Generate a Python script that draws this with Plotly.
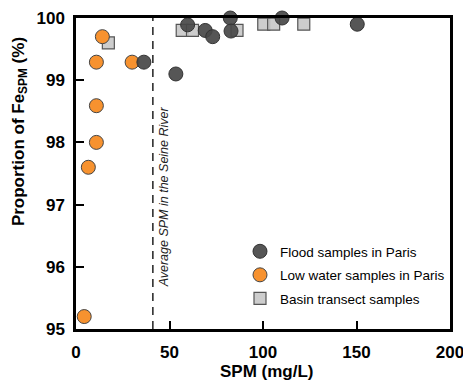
import plotly.graph_objects as go

# Data
flood_x = [36.3, 53.4, 59.7, 69.1, 73.1, 82.5, 82.9, 110.2, 150.4]
flood_y = [99.29, 99.10, 99.89, 99.80, 99.70, 100.0, 99.79, 100.0, 99.90]

low_x = [14.1, 10.9, 30.0, 10.9, 10.9, 6.6, 4.4]
low_y = [99.70, 99.29, 99.29, 98.59, 98.00, 97.60, 95.20]

basin_x = [17.3, 56.8, 62.3, 86.1, 100.4, 105.7, 121.8]
basin_y = [99.60, 99.80, 99.80, 99.80, 99.90, 99.90, 99.90]

avg_spm = 41.1
x_ticks = [0, 50, 100, 150, 200]
y_ticks = [95, 96, 97, 98, 99, 100]

x_title = "SPM (mg/L)"
y_title = "Proportion of Fe<sub>SPM</sub> (%)"
avg_label = "<i>Average SPM in the Seine River</i>"

FONT = "Liberation Sans, Arial, Helvetica, sans-serif"

fig = go.Figure()

fig.add_trace(go.Scatter(
    x=basin_x, y=basin_y, mode="markers", name="Basin transect samples",
    marker=dict(symbol="square", size=12, color="rgba(200,200,200,0.9)",
                line=dict(color="#555555", width=1.2)),
    cliponaxis=False, legendgroup="c", legendrank=3,
))
fig.add_trace(go.Scatter(
    x=low_x, y=low_y, mode="markers", name="Low water samples in Paris",
    marker=dict(symbol="circle", size=14, color="rgba(247,146,47,1)",
                line=dict(color="#444444", width=1)),
    cliponaxis=False, legendgroup="b", legendrank=2,
))
fig.add_trace(go.Scatter(
    x=flood_x, y=flood_y, mode="markers", name="Flood samples in Paris",
    marker=dict(symbol="circle", size=14, color="rgba(72,72,72,0.92)",
                line=dict(color="#333333", width=1)),
    cliponaxis=False, legendgroup="a", legendrank=1,
))

fig.add_shape(type="line", x0=avg_spm, x1=avg_spm, y0=95, y1=100,
              xref="x", yref="y",
              line=dict(color="#222222", width=1.5, dash="8px,6px"))

fig.add_annotation(x=avg_spm, y=97.13, xref="x", yref="y",
                   text=avg_label, textangle=-90, showarrow=False, xshift=11,
                   font=dict(family=FONT, size=12.5, color="#222222"))

# axis titles
fig.add_annotation(x=0.512, y=-0.138, xref="paper", yref="paper",
                   text=x_title, showarrow=False, xanchor="center", yanchor="middle",
                   font=dict(family=FONT, size=17, color="black", weight="bold"))
fig.add_annotation(x=-0.150, y=0.636, xref="paper", yref="paper",
                   text=y_title, textangle=-90, showarrow=False,
                   xanchor="center", yanchor="middle",
                   font=dict(family=FONT, size=17, color="black", weight="bold"))

axis_common = dict(ticks="inside", ticklen=8, tickwidth=2, tickcolor="black",
                   showline=True, linewidth=2.5, linecolor="black", mirror=True,
                   showgrid=False, zeroline=False, automargin=False,
                   ticklabeloverflow="allow",
                   tickfont=dict(family=FONT, size=17, color="black", weight="bold"))

fig.update_xaxes(range=[0, 200], tickvals=x_ticks, ticklabelstandoff=6, **axis_common)
fig.update_yaxes(range=[95, 100], tickvals=y_ticks, ticklabelstandoff=5, **axis_common)

fig.update_layout(
    width=463, height=382,
    margin=dict(l=76, r=13, t=18, b=53),
    plot_bgcolor="white", paper_bgcolor="white",
    font=dict(family=FONT, color="black"),
    legend=dict(x=0.4385, y=0.299, xanchor="left", yanchor="top",
                bgcolor="rgba(0,0,0,0)", font=dict(family=FONT, size=13.5),
                traceorder="grouped", tracegroupgap=3, itemwidth=30),
    showlegend=True,
)

fig.write_html(
    "out.html",
    config={"displayModeBar": False},
    post_script="document.body.style.margin='0';"
                "document.documentElement.style.overflow='hidden';",
)
